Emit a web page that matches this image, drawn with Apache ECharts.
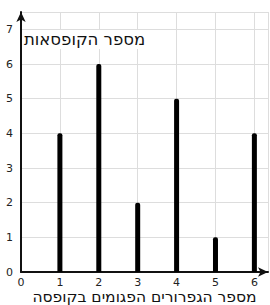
<!DOCTYPE html>
<html lang="he">
<head>
<meta charset="UTF-8" />
<title>מספר הגפרורים הפגומים בקופסה</title>
<script src="https://cdn.jsdelivr.net/npm/echarts@6/dist/echarts.min.js"></script>
<style>
  html, body { margin: 0; padding: 0; background: #fff; }
  #main { width: 270px; height: 305px; }
</style>
</head>
<body>
<div id="main"></div>
<script>
// מספר הגפרורים הפגומים -> מספר הקופסאות
let defects = [1, 2, 3, 4, 5, 6];
let boxes = [4, 6, 2, 5, 1, 4];
let xTitle = 'מספר הגפרורים הפגומים בקופסה';
let yTitle = 'מספר הקופסאות';

// svg renderer so the browser lays out the Hebrew right-to-left
let myChart = echarts.init(document.getElementById('main'), null, { renderer: 'svg' });
let font = 'DejaVu Sans';

let intLabel = function (v) {
    return Number.isInteger(v) ? String(v) : '';
};

myChart.setOption({
    animation: false,
    title: {
        text: yTitle,
        left: 22,
        top: 30,
        padding: [1, 2],
        backgroundColor: '#fff',
        textStyle: { fontFamily: font, fontSize: 16.5, fontWeight: 'normal', color: '#111' }
    },
    grid: { left: 21, right: 2, top: 12, bottom: 33, outerBoundsMode: 'none' },
    xAxis: {
        type: 'value',
        min: 0,
        max: 6.35,
        interval: 1,
        name: xTitle,
        nameLocation: 'middle',
        nameGap: 17,
        nameMoveOverlap: false,
        nameTextStyle: { fontFamily: font, fontSize: 15.5, color: '#111', lineHeight: 15 },
        axisLine: { lineStyle: { color: '#111', width: 2 }, symbol: ['none', 'arrow'], symbolSize: [7, 10] },
        axisTick: { show: false },
        axisLabel: { formatter: intLabel, fontFamily: font, fontSize: 11, color: '#222', margin: 5, lineHeight: 11 },
        splitLine: { lineStyle: { color: '#ddd', width: 1 } }
    },
    yAxis: {
        type: 'value',
        min: 0,
        max: 7.5,
        interval: 1,
        axisLine: { lineStyle: { color: '#111', width: 2 }, symbol: ['none', 'arrow'], symbolSize: [7, 10] },
        axisTick: { show: false },
        axisLabel: { formatter: intLabel, fontFamily: font, fontSize: 11, color: '#222', margin: 8 },
        splitLine: { lineStyle: { color: '#ddd', width: 1 } }
    },
    series: [{
        type: 'bar',
        barWidth: 5,
        itemStyle: { color: '#000', borderRadius: [2, 2, 0, 0] },
        data: defects.map(function (d, i) { return [d, boxes[i]]; })
    }]
});
</script>
</body>
</html>
